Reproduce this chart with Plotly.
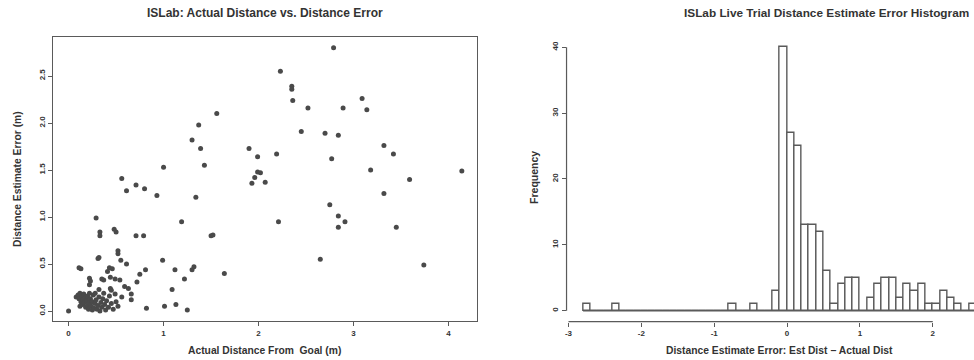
import numpy as np
import plotly.graph_objects as go

# ---- Scatter: actual distance from goal (m) vs. distance estimate error (m) ----
actual_dist = [
    0.29, 0.56, 0.61, 0.71, 0.80, 0.93, 1.00, 1.19, 1.30, 1.37, 1.39, 1.43, 1.34, 1.56,
    1.90, 1.93, 0.48, 2.79, 2.23, 2.35, 2.35, 2.36, 2.52, 2.89, 3.09, 3.14, 2.45, 2.70,
    2.84, 1.99, 2.19, 2.77, 3.32, 3.42, 1.99, 2.02, 1.96, 2.07, 3.18, 3.59, 4.14, 3.32,
    2.75, 2.84, 2.91, 2.21, 2.84, 3.45, 2.65, 3.74, 0.33, 0.33, 0.50, 0.71, 0.79, 1.50,
    1.52, 0.52, 0.52, 0.55, 0.61, 0.31, 0.32, 0.11, 0.13, 0.99, 1.12, 1.30, 1.32, 1.64,
    1.22, 1.09, 0.81, 0.75, 0.72, 0.43, 0.46, 0.41, 0.44, 0.49, 0.54, 0.35, 0.37, 0.22,
    0.23, 0.22, 0.32, 0.44, 0.45, 0.59, 0.63, 0.66, 0.49, 0.66, 0.56, 0.82, 1.01, 1.13,
    1.25, 0.00,
    0.08, 0.10, 0.11, 0.12, 0.13, 0.14, 0.15, 0.15, 0.16, 0.17, 0.18, 0.18, 0.19, 0.20,
    0.20, 0.21, 0.22, 0.23, 0.24, 0.25, 0.25, 0.26, 0.27, 0.28, 0.29, 0.30, 0.31, 0.32,
    0.33, 0.34, 0.35, 0.36, 0.38, 0.39, 0.40, 0.42, 0.43, 0.45, 0.47, 0.50, 0.52, 0.37,
    0.28, 0.12, 0.22,
]
est_error = [
    0.99, 1.41, 1.28, 1.34, 1.30, 1.23, 1.53, 0.95, 1.82, 1.98, 1.73, 1.55, 1.21, 2.10,
    1.73, 1.36, 0.87, 2.80, 2.55, 2.39, 2.36, 2.24, 2.16, 2.16, 2.26, 2.14, 1.91, 1.89,
    1.87, 1.64, 1.67, 1.62, 1.76, 1.67, 1.48, 1.47, 1.42, 1.37, 1.50, 1.40, 1.49, 1.25,
    1.13, 1.01, 0.95, 0.95, 0.89, 0.89, 0.55, 0.49, 0.84, 0.80, 0.84, 0.80, 0.80, 0.80,
    0.81, 0.64, 0.61, 0.54, 0.50, 0.56, 0.57, 0.46, 0.45, 0.54, 0.44, 0.44, 0.47, 0.40,
    0.34, 0.23, 0.44, 0.39, 0.31, 0.46, 0.45, 0.42, 0.36, 0.34, 0.33, 0.34, 0.33, 0.35,
    0.32, 0.28, 0.23, 0.24, 0.22, 0.26, 0.24, 0.18, 0.18, 0.12, 0.15, 0.03, 0.05, 0.07,
    0.01, 0.00,
    0.15, 0.17, 0.13, 0.19, 0.10, 0.16, 0.12, 0.07, 0.18, 0.09, 0.14, 0.04, 0.11, 0.06,
    0.16, 0.02, 0.09, 0.13, 0.05, 0.01, 0.10, 0.17, 0.03, 0.08, 0.12, 0.02, 0.06, 0.15,
    0.00, 0.09, 0.04, 0.13, 0.07, 0.01, 0.11, 0.04, 0.16, 0.08, 0.02, 0.10, 0.05, 0.19,
    0.19, 0.05, 0.19,
]
scatter_xticks = [0, 1, 2, 3, 4]
scatter_yticks = [0.0, 0.5, 1.0, 1.5, 2.0, 2.5]
scatter_ytick_text = ["0.0", "0.5", "1.0", "1.5", "2.0", "2.5"]

# ---- Histogram: estimate error (Est Dist - Actual Dist), bins of 0.1 m ----
bin_width = 0.1
bin_first_edge = -2.8
bin_counts = [
    1, 0, 0, 0, 1,                                  # -2.8 .. -2.4
    0, 0, 0, 0, 0, 0, 0, 0, 0, 0, 0, 0, 0, 0, 0,    # -2.3 .. -0.9
    1, 0, 0, 1, 0, 0,                               # -0.8 .. -0.3
    3, 40, 27, 25, 13, 13, 12, 6, 1, 4, 5, 5,       # -0.2 .. 0.9
    0, 2, 4, 5, 5, 2, 4, 3, 4, 1, 1, 3, 2, 1, 0, 1, # 1.0 .. 2.5
]
hist_xticks = [-3, -2, -1, 0, 1, 2]
hist_xtick_text = ["-3", "-2", "-1", "0", "1", "2"]
hist_yticks = [0, 10, 20, 30, 40]

bin_left = np.round(bin_first_edge + bin_width * np.arange(len(bin_counts)), 2)
bin_center = bin_left + bin_width / 2

W, H = 974, 360
INK = "#333333"
LINE = "#5a5a5a"
FONT = "Liberation Sans, Arial, sans-serif"


def px_x(p):
    return p / W


def px_y(p):
    return (H - p) / H


fig = go.Figure()

fig.add_trace(go.Scatter(
    x=actual_dist, y=est_error, mode="markers",
    marker=dict(size=5, color="#4a4a4a", line=dict(width=0)),
    xaxis="x", yaxis="y", showlegend=False, hoverinfo="skip",
))

fig.add_trace(go.Bar(
    x=bin_center, y=bin_counts, width=bin_width,
    marker=dict(color="white", line=dict(color=LINE, width=1.4)),
    xaxis="x2", yaxis="y2", showlegend=False, hoverinfo="skip",
))

axis_common = dict(
    showgrid=False, zeroline=False, ticks="outside", ticklen=4, tickwidth=1,
    tickcolor=LINE, tickfont=dict(family=FONT, size=8, color=INK, weight="bold"),
)

hist_bottom_px = 321.7
hist_left_px = 565.7

fig.update_layout(
    width=W, height=H,
    margin=dict(l=0, r=0, t=0, b=0),
    paper_bgcolor="white", plot_bgcolor="white",
    bargap=0,
    xaxis=dict(
        domain=[px_x(51), px_x(476)], range=[-0.165, 4.30], anchor="y",
        tickvals=scatter_xticks, showline=True, mirror=True,
        linecolor=LINE, linewidth=1.2, **axis_common,
    ),
    yaxis=dict(
        domain=[px_y(321), px_y(37)], range=[-0.106, 2.915], anchor="x",
        tickvals=scatter_yticks, ticktext=scatter_ytick_text, tickangle=-90,
        showline=True, mirror=True, linecolor=LINE, linewidth=1.2, **axis_common,
    ),
    xaxis2=dict(
        domain=[px_x(hist_left_px), 1.0], range=[-3.027, 2.566], anchor="y2",
        tickvals=hist_xticks, ticktext=hist_xtick_text, showline=False, **axis_common,
    ),
    yaxis2=dict(
        domain=[px_y(hist_bottom_px), px_y(37)], range=[-1.67, 41.56], anchor="x2",
        tickvals=hist_yticks, tickangle=-90, showline=False, **axis_common,
    ),
)

# R-style axis lines spanning the outer ticks, plus the histogram baseline
fig.add_shape(type="line", xref="x2", yref="paper",
              x0=hist_xticks[0], x1=hist_xticks[-1],
              y0=px_y(hist_bottom_px), y1=px_y(hist_bottom_px),
              line=dict(color=LINE, width=1.2))
fig.add_shape(type="line", xref="paper", yref="y2",
              x0=px_x(hist_left_px), x1=px_x(hist_left_px),
              y0=hist_yticks[0], y1=hist_yticks[-1],
              line=dict(color=LINE, width=1.2))
fig.add_shape(type="line", xref="x2", yref="y2",
              x0=bin_left[0], x1=bin_left[-1] + bin_width, y0=0, y1=0,
              line=dict(color=LINE, width=1.4))


def label(text, x, y, size, angle=0):
    fig.add_annotation(
        text=f"<b>{text}</b>",
        x=x, y=y, xref="paper", yref="paper", showarrow=False,
        xanchor="center", yanchor="middle", textangle=angle,
        font=dict(family=FONT, size=size, color=INK),
    )


label("ISLab: Actual Distance vs. Distance Error", px_x(264), px_y(13), 12)
label("ISLab Live Trial Distance Estimate Error Histogram", px_x(826), px_y(13), 11.8)
label("Actual Distance From \u00a0Goal (m)", px_x(263), px_y(350), 10.3)
label("Distance Estimate Error: Est Dist \u2212 Actual Dist", px_x(779), px_y(350), 10.3)
label("Distance Estimate Error (m)", px_x(15), px_y(179), 10.3, angle=-90)
label("Frequency", px_x(533), px_y(177), 10.5, angle=-90)

fig.write_html("out.html")
